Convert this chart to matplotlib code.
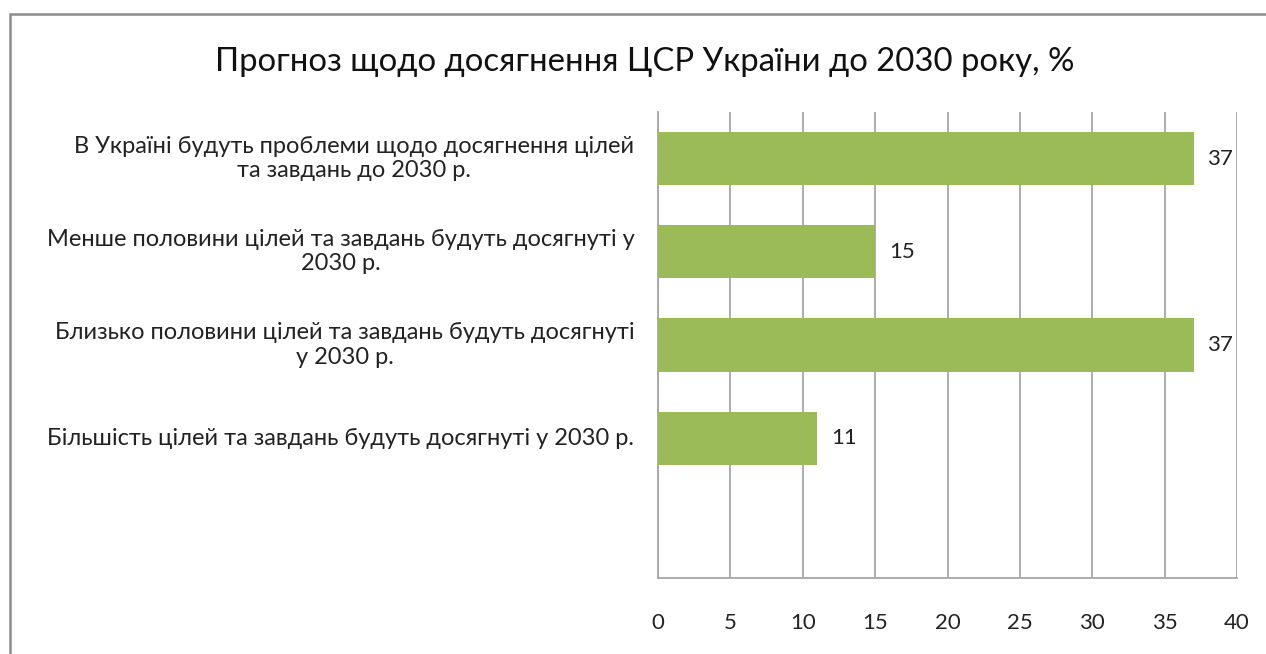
import matplotlib
matplotlib.use("Agg")
from matplotlib import pyplot as plt
from matplotlib.patches import Rectangle

# data
title = 'Прогноз щодо досягнення ЦСР України до 2030 року, %'
categories = [
    'В Україні будуть проблеми щодо досягнення цілей\nта завдань до 2030 р.',
    'Менше половини цілей та завдань будуть досягнуті у\n2030 р.',
    'Близько половини цілей та завдань будуть досягнуті\nу 2030 р.',
    'Більшість цілей та завдань будуть досягнуті у 2030 р.',
    '',
]
values = [37, 15, 37, 11]
xticks = [0, 5, 10, 15, 20, 25, 30, 35, 40]

plt.rcParams['font.family'] = ['Lato', 'DejaVu Sans']

fig = plt.figure(figsize=(12.66, 6.54), dpi=100)
# axes placed where the plot area sits in the picture
ax = fig.add_axes([658 / 1266, 1 - 578 / 654, (1237 - 658) / 1266, (578 - 112) / 654])

pos = list(range(len(categories)))
bars = ax.barh(pos[:len(values)], values, height=0.57, color='#9BBB59', zorder=3)
for b, v in zip(bars, values):
    ax.annotate(str(v), (b.get_width(), b.get_y() + b.get_height() / 2),
                xytext=(10, 0), textcoords='offset points',
                ha='left', va='center', fontsize=16, color='#222222')

ax.set_xlim(0, 40)
ax.set_ylim(len(categories) - 0.5, -0.5)
ax.set_xticks(xticks)
ax.set_yticks(pos)
ax.set_yticklabels([])
ax.grid(axis='x', color='#a6a6a6', linewidth=1.3, zorder=0)
ax.tick_params(axis='x', length=0, pad=25, labelsize=16, labelcolor='#222222')
ax.tick_params(axis='y', length=0)

# category labels, centred lines, right edge near the axis
for i, c in zip(pos, categories):
    ax.annotate(c, (0, i), xycoords=('axes fraction', 'data'),
                xytext=(-17, 0), textcoords='offset points',
                ha='right', va='center', multialignment='center',
                linespacing=1.2, fontsize=17, color='#222222')

for s in ['top', 'right']:
    ax.spines[s].set_visible(False)
for s in ['left', 'bottom']:
    ax.spines[s].set_color('#a6a6a6')
    ax.spines[s].set_linewidth(1.3)

fig.text(0.509, 1 - 62 / 654, title, ha='center', va='center', fontsize=23.7, color='#111111')

# outer frame, cut off at right and bottom like the screenshot
fig.patches.append(Rectangle((10 / 1266, -0.05), 1.1, 1 - 14 / 654 + 0.05,
                             transform=fig.transFigure, fill=False,
                             edgecolor='#8c8c8c', linewidth=1.8))

fig.savefig('out.png', dpi=100)
